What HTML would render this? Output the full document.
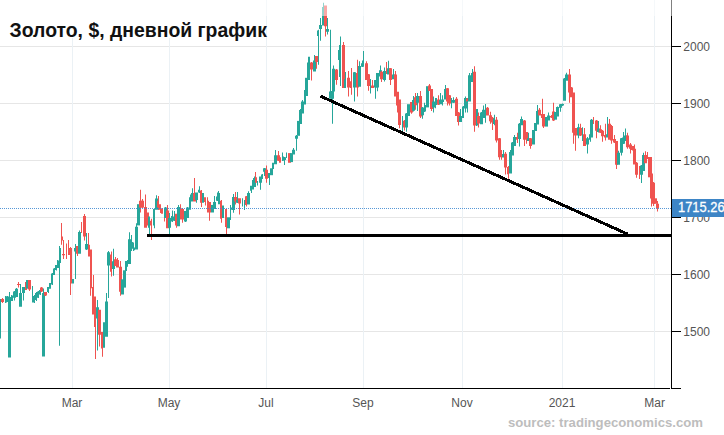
<!DOCTYPE html>
<html><head><meta charset="utf-8"><title>Gold chart</title>
<style>
html,body{margin:0;padding:0;background:#fff;}html{overflow:hidden;}
body{width:724px;height:435px;overflow:hidden;position:relative;font-family:"Liberation Sans",sans-serif;}
svg{position:absolute;left:0;top:0;}
.t{position:absolute;white-space:nowrap;font-family:"Liberation Sans",sans-serif;}
.yl{color:#555;font-size:12px;left:683.3px;line-height:14px;}
.xl{color:#555;font-size:12px;top:395.7px;line-height:14px;width:60px;text-align:center;}
</style></head><body>
<svg width="724" height="435" viewBox="0 0 724 435">
<g stroke="#e6e6e6" stroke-width="1" shape-rendering="crispEdges">
<path d="M0 46.5H671M0 103.5H671M0 160.5H671M0 217.5H671M0 274.5H671M0 331.5H671"/>
</g>
<g stroke="#ebf1f5" stroke-width="1" shape-rendering="crispEdges">
<path d="M72.5 0V388M169.5 0V388M266.5 0V388M363.5 0V388M462.5 0V388M562.5 0V388M654.5 0V388"/>
</g>
<rect x="0" y="0" width="266" height="38" fill="#fff"/>
<path fill="#26a69a" d="M0 299.0h1V338.6h-1z"/>
<path fill="#ef5350" d="M1 299.0h3V302.0h-3zM2 298.0h1V303.0h-1z"/>
<path fill="#26a69a" d="M5 296.5h2V302.5h-2zM5 296.0h1V303.0h-1z"/>
<path fill="#26a69a" d="M6 296.5h3V302.0h-3zM7 296.0h1V302.0h-1z"/>
<path fill="#26a69a" d="M8 297.0h3V357.6h-3zM9 292.0h1V357.6h-1z"/>
<path fill="#26a69a" d="M11 295.6h2V301.0h-2zM11 295.0h1V301.0h-1z"/>
<path fill="#26a69a" d="M13 291.5h3V297.7h-3zM14 291.0h1V300.5h-1z"/>
<path fill="#26a69a" d="M15 288.7h3V297.0h-3zM16 288.0h1V297.0h-1z"/>
<path fill="#ef5350" d="M17 284.0h3V285.0h-3zM18 282.0h1V287.5h-1z"/>
<path fill="#26a69a" d="M19 293.0h3V306.7h-3zM20 284.0h1V306.7h-1z"/>
<path fill="#26a69a" d="M22 287.0h3V293.0h-3zM23 287.0h1V300.5h-1z"/>
<path fill="#ef5350" d="M25 282.0h2V290.0h-2z"/>
<path fill="#26a69a" d="M26 280.0h3V288.7h-3z"/>
<path fill="#ef5350" d="M28 280.0h3V289.4h-3zM29 280.0h1V291.0h-1z"/>
<path fill="#26a69a" d="M32 300.0h1V301.5h-1zM32 286.0h1V302.5h-1z"/>
<path fill="#26a69a" d="M33 296.0h2V302.5h-2zM34 295.0h1V303.0h-1z"/>
<path fill="#26a69a" d="M35 293.0h2V300.0h-2zM36 292.0h1V301.0h-1z"/>
<path fill="#26a69a" d="M37 291.5h2V297.7h-2zM38 291.0h1V298.0h-1z"/>
<path fill="#26a69a" d="M39 290.0h2V294.5h-2zM40 289.0h1V295.0h-1z"/>
<path fill="#ef5350" d="M40 287.5h3V291.5h-3zM41 287.0h1V292.0h-1z"/>
<path fill="#26a69a" d="M42 293.0h3V356.6h-3zM43 288.5h1V356.6h-1z"/>
<path fill="#ef5350" d="M44 292.0h3V295.6h-3zM45 292.0h1V296.0h-1z"/>
<path fill="#26a69a" d="M47 287.0h2V292.0h-2zM48 287.0h1V293.0h-1z"/>
<path fill="#26a69a" d="M49 283.0h2V288.7h-2z"/>
<path fill="#26a69a" d="M51 273.5h2V284.5h-2zM52 273.0h1V285.0h-1z"/>
<path fill="#26a69a" d="M53 268.5h2V275.0h-2zM54 268.0h1V275.0h-1z"/>
<path fill="#26a69a" d="M55 265.0h2V270.0h-2zM56 265.0h1V270.5h-1z"/>
<path fill="#26a69a" d="M57 260.6h2V268.0h-2zM57 260.0h1V268.0h-1z"/>
<path fill="#26a69a" d="M59 248.0h2V263.0h-2zM59 246.0h1V345.8h-1z"/>
<path fill="#ef5350" d="M61 236.4h2V240.5h-2zM61 223.0h1V244.7h-1z"/>
<path fill="#ef5350" d="M62 254.0h3V255.2h-3zM63 240.0h1V259.0h-1z"/>
<path fill="#ef5350" d="M66 250.5h1V252.0h-1zM66 243.5h1V259.0h-1z"/>
<path fill="#ef5350" d="M68 248.0h2V255.0h-2zM68 240.0h1V255.0h-1z"/>
<path fill="#ef5350" d="M70 248.0h2V283.5h-2zM70 247.0h1V295.0h-1z"/>
<path fill="#26a69a" d="M72 279.0h2V283.5h-2z"/>
<path fill="#26a69a" d="M74 248.0h2V251.6h-2zM75 244.0h1V279.0h-1z"/>
<path fill="#ef5350" d="M76 246.0h2V253.7h-2zM77 246.0h1V256.0h-1z"/>
<path fill="#26a69a" d="M78 232.0h3V253.7h-3zM79 230.5h1V253.7h-1z"/>
<path fill="#ef5350" d="M81 231.0h1V233.0h-1zM81 222.0h1V233.0h-1z"/>
<path fill="#ef5350" d="M83 216.0h3V236.4h-3zM84 214.0h1V240.5h-1z"/>
<path fill="#26a69a" d="M85 244.0h3V249.5h-3zM86 233.0h1V250.0h-1z"/>
<path fill="#ef5350" d="M88 244.7h2V256.4h-2zM88 233.0h1V256.4h-1z"/>
<path fill="#ef5350" d="M90 249.5h2V288.2h-2zM90 249.5h1V295.8h-1z"/>
<path fill="#ef5350" d="M92 286.9h2V314.6h-2zM93 275.0h1V314.6h-1z"/>
<path fill="#ef5350" d="M94 296.5h2V327.0h-2zM95 296.5h1V358.9h-1z"/>
<path fill="#26a69a" d="M96 307.3h3V318.5h-3zM97 300.0h1V350.6h-1z"/>
<path fill="#ef5350" d="M98 309.7h3V334.7h-3zM99 309.7h1V346.4h-1z"/>
<path fill="#ef5350" d="M101 332.0h2V348.5h-2zM102 332.0h1V356.8h-1z"/>
<path fill="#26a69a" d="M103 322.3h2V347.8h-2z"/>
<path fill="#26a69a" d="M105 301.4h3V336.8h-3zM106 293.0h1V336.8h-1z"/>
<path fill="#26a69a" d="M107 252.3h3V265.4h-3zM108 251.0h1V298.0h-1z"/>
<path fill="#ef5350" d="M110 254.4h2V271.7h-2zM111 251.5h1V276.5h-1z"/>
<path fill="#26a69a" d="M112 261.3h3V269.0h-3zM113 248.8h1V275.8h-1z"/>
<path fill="#ef5350" d="M114 259.2h3V266.1h-3zM115 257.0h1V266.1h-1z"/>
<path fill="#ef5350" d="M116 259.9h3V267.5h-3zM117 258.0h1V267.5h-1z"/>
<path fill="#ef5350" d="M119 266.8h3V291.7h-3zM120 261.0h1V295.8h-1z"/>
<path fill="#26a69a" d="M121 279.3h3V294.5h-3z"/>
<path fill="#26a69a" d="M123 270.3h3V287.6h-3z"/>
<path fill="#26a69a" d="M125 261.0h2V271.0h-2z"/>
<path fill="#26a69a" d="M127 260.6h1V266.8h-1zM127 260.0h1V266.8h-1z"/>
<path fill="#26a69a" d="M128 239.2h3V264.0h-3zM129 232.3h1V264.0h-1z"/>
<path fill="#26a69a" d="M131 242.0h2V248.8h-2zM131 235.0h1V251.0h-1z"/>
<path fill="#26a69a" d="M133 247.5h2V250.2h-2zM133 242.5h1V251.0h-1z"/>
<path fill="#26a69a" d="M135 226.7h3V249.5h-3zM136 223.3h1V249.5h-1z"/>
<path fill="#26a69a" d="M137 204.2h3V225.4h-3z"/>
<path fill="#ef5350" d="M139 200.7h3V207.6h-3zM140 189.7h1V212.5h-1z"/>
<path fill="#ef5350" d="M141 200.7h3V207.6h-3zM142 199.0h1V208.0h-1z"/>
<path fill="#ef5350" d="M144 207.0h3V227.7h-3zM145 194.5h1V227.7h-1z"/>
<path fill="#ef5350" d="M147 212.5h2V225.6h-2z"/>
<path fill="#26a69a" d="M148 216.6h2V227.7h-2zM149 216.6h1V233.9h-1z"/>
<path fill="#ef5350" d="M150 220.7h2V225.6h-2zM151 218.7h1V240.0h-1z"/>
<path fill="#26a69a" d="M153 209.0h2V225.6h-2zM154 209.0h1V228.3h-1z"/>
<path fill="#26a69a" d="M155 198.6h3V209.7h-3zM156 195.2h1V209.7h-1z"/>
<path fill="#ef5350" d="M157 200.7h2V207.6h-2zM158 195.9h1V210.0h-1z"/>
<path fill="#ef5350" d="M159 204.2h2V209.7h-2zM160 204.2h1V213.1h-1z"/>
<path fill="#ef5350" d="M161 208.3h2V213.8h-2z"/>
<path fill="#ef5350" d="M164 209.0h1V214.0h-1zM164 209.0h1V221.4h-1z"/>
<path fill="#26a69a" d="M164 207.6h3V218.0h-3zM165 207.0h1V218.0h-1z"/>
<path fill="#ef5350" d="M166 210.4h3V228.3h-3zM167 204.9h1V228.3h-1z"/>
<path fill="#26a69a" d="M168 218.0h3V227.7h-3zM169 213.0h1V233.9h-1z"/>
<path fill="#26a69a" d="M171 215.9h2V221.4h-2zM172 210.4h1V222.0h-1z"/>
<path fill="#26a69a" d="M173 216.6h2V220.7h-2zM174 211.0h1V221.0h-1z"/>
<path fill="#ef5350" d="M175 213.8h2V225.6h-2zM176 213.8h1V227.7h-1z"/>
<path fill="#26a69a" d="M177 206.9h3V226.3h-3zM178 204.9h1V226.3h-1z"/>
<path fill="#ef5350" d="M180 208.3h2V219.4h-2zM180 204.2h1V219.4h-1z"/>
<path fill="#ef5350" d="M182 209.0h2V219.4h-2zM182 208.0h1V222.8h-1z"/>
<path fill="#26a69a" d="M184 211.0h3V221.4h-3zM185 211.0h1V222.0h-1z"/>
<path fill="#26a69a" d="M186 207.6h3V218.0h-3zM187 207.0h1V218.0h-1z"/>
<path fill="#26a69a" d="M189 197.3h2V209.7h-2zM190 194.5h1V209.7h-1z"/>
<path fill="#26a69a" d="M191 193.1h2V201.4h-2zM192 188.3h1V201.4h-1z"/>
<path fill="#ef5350" d="M193 193.1h3V201.4h-3zM194 178.0h1V201.4h-1z"/>
<path fill="#26a69a" d="M195 192.4h3V200.0h-3zM196 192.4h1V202.8h-1z"/>
<path fill="#26a69a" d="M198 189.7h2V192.4h-2zM199 186.2h1V193.0h-1z"/>
<path fill="#ef5350" d="M200 190.4h2V202.8h-2zM201 190.0h1V207.0h-1z"/>
<path fill="#26a69a" d="M202 193.1h2V202.8h-2z"/>
<path fill="#ef5350" d="M204 197.3h2V202.1h-2zM205 197.3h1V205.5h-1z"/>
<path fill="#ef5350" d="M207 200.7h2V212.5h-2zM207 197.3h1V212.5h-1z"/>
<path fill="#ef5350" d="M209 202.0h2V212.5h-2zM209 202.0h1V220.7h-1z"/>
<path fill="#26a69a" d="M211 204.9h3V212.5h-3z"/>
<path fill="#26a69a" d="M213 202.1h3V209.0h-3zM214 195.9h1V209.0h-1z"/>
<path fill="#26a69a" d="M216 196.5h2V200.7h-2zM217 192.4h1V201.0h-1z"/>
<path fill="#26a69a" d="M218 193.1h2V204.2h-2zM218 191.0h1V204.2h-1z"/>
<path fill="#ef5350" d="M220 200.7h2V218.7h-2zM221 200.0h1V222.8h-1z"/>
<path fill="#26a69a" d="M222 205.5h2V218.0h-2z"/>
<path fill="#ef5350" d="M225 209.0h2V227.0h-2zM226 209.0h1V233.9h-1z"/>
<path fill="#26a69a" d="M227 217.3h3V228.3h-3z"/>
<path fill="#26a69a" d="M230 207.6h2V209.7h-2zM230 204.9h1V220.0h-1z"/>
<path fill="#26a69a" d="M232 197.0h3V209.9h-3zM233 194.1h1V212.8h-1z"/>
<path fill="#ef5350" d="M234 197.0h3V201.6h-3zM235 192.0h1V204.5h-1z"/>
<path fill="#26a69a" d="M236 200.0h2V202.8h-2zM237 192.0h1V203.0h-1z"/>
<path fill="#ef5350" d="M238 198.3h3V203.6h-3zM239 198.3h1V214.4h-1z"/>
<path fill="#26a69a" d="M242 201.2h1V202.8h-1zM242 198.3h1V206.5h-1z"/>
<path fill="#26a69a" d="M244 201.2h1V202.8h-1zM244 200.0h1V209.9h-1z"/>
<path fill="#ef5350" d="M245 196.2h2V204.9h-2zM246 196.0h1V206.5h-1z"/>
<path fill="#26a69a" d="M247 192.9h3V204.5h-3zM248 191.2h1V204.5h-1z"/>
<path fill="#26a69a" d="M250 185.8h2V190.8h-2zM251 185.8h1V192.9h-1z"/>
<path fill="#26a69a" d="M252 181.0h2V189.5h-2zM252 180.0h1V189.5h-1z"/>
<path fill="#26a69a" d="M253 178.0h3V187.0h-3zM254 176.6h1V187.0h-1z"/>
<path fill="#ef5350" d="M255 177.3h2V182.8h-2zM255 172.0h1V182.8h-1z"/>
<path fill="#26a69a" d="M257 181.4h1V184.2h-1zM257 181.0h1V185.6h-1z"/>
<path fill="#26a69a" d="M259 176.6h3V182.8h-3zM260 176.6h1V189.7h-1z"/>
<path fill="#26a69a" d="M261 174.5h2V178.7h-2zM262 174.0h1V179.0h-1z"/>
<path fill="#26a69a" d="M263 168.3h3V171.8h-3zM264 168.0h1V176.0h-1z"/>
<path fill="#ef5350" d="M265 169.7h3V178.7h-3zM266 165.5h1V182.8h-1z"/>
<path fill="#26a69a" d="M268 173.1h2V178.0h-2zM269 173.0h1V185.0h-1z"/>
<path fill="#26a69a" d="M270 168.3h3V175.2h-3z"/>
<path fill="#26a69a" d="M272 162.8h2V169.0h-2z"/>
<path fill="#26a69a" d="M274 155.2h3V164.2h-3zM275 150.0h1V164.2h-1z"/>
<path fill="#ef5350" d="M277 155.2h3V160.7h-3zM278 151.0h1V161.0h-1z"/>
<path fill="#ef5350" d="M279 157.3h2V162.8h-2z"/>
<path fill="#26a69a" d="M282 156.6h2V160.7h-2zM282 152.4h1V161.0h-1z"/>
<path fill="#26a69a" d="M283 157.3h3V160.0h-3zM284 157.0h1V164.9h-1z"/>
<path fill="#26a69a" d="M286 155.0h1V158.0h-1zM286 152.4h1V158.0h-1z"/>
<path fill="#ef5350" d="M288 153.1h3V162.8h-3z"/>
<path fill="#26a69a" d="M290 153.1h3V162.1h-3z"/>
<path fill="#26a69a" d="M292 149.7h3V154.5h-3zM293 148.0h1V154.5h-1z"/>
<path fill="#26a69a" d="M295 135.8h3V138.7h-3zM296 135.0h1V150.7h-1z"/>
<path fill="#26a69a" d="M297 120.9h3V135.8h-3z"/>
<path fill="#26a69a" d="M299 109.9h3V124.0h-3zM300 109.0h1V124.0h-1z"/>
<path fill="#26a69a" d="M301 101.6h3V113.6h-3zM302 100.0h1V113.6h-1z"/>
<path fill="#26a69a" d="M304 90.0h2V104.5h-2z"/>
<path fill="#26a69a" d="M305 77.8h3V96.0h-3z"/>
<path fill="#26a69a" d="M307 62.6h3V79.9h-3zM308 56.8h1V79.9h-1z"/>
<path fill="#26a69a" d="M309 62.0h1V66.0h-1zM309 56.8h1V66.0h-1z"/>
<path fill="#ef5350" d="M310 62.6h3V69.5h-3zM311 62.0h1V80.6h-1z"/>
<path fill="#26a69a" d="M313 60.5h3V71.6h-3zM314 55.0h1V71.6h-1z"/>
<path fill="#ef5350" d="M315 56.0h3V62.0h-3zM316 56.0h1V68.8h-1z"/>
<path fill="#26a69a" d="M317 30.4h2V35.9h-2zM318 29.7h1V64.7h-1z"/>
<path fill="#26a69a" d="M319 24.9h3V29.0h-3zM320 18.0h1V40.7h-1z"/>
<path fill="#26a69a" d="M322 7.0h2V25.5h-2zM323 2.8h1V25.5h-1z"/>
<path fill="#ef5350" d="M324 5.5h3V26.2h-3zM325 5.5h1V36.6h-1z"/>
<path fill="#26a69a" d="M326 29.0h3V31.8h-3zM327 18.0h1V34.5h-1z"/>
<path fill="#26a69a" d="M329 91.6h3V98.8h-3zM330 29.7h1V98.8h-1z"/>
<path fill="#26a69a" d="M331 91.0h3V98.8h-3zM332 91.0h1V123.7h-1z"/>
<path fill="#26a69a" d="M332 68.8h3V91.6h-3zM333 65.4h1V91.6h-1z"/>
<path fill="#ef5350" d="M335 69.5h3V79.9h-3zM336 69.0h1V84.7h-1z"/>
<path fill="#26a69a" d="M338 53.0h1V60.0h-1zM338 50.0h1V60.0h-1z"/>
<path fill="#26a69a" d="M339 44.9h2V77.0h-2zM340 36.6h1V86.0h-1z"/>
<path fill="#ef5350" d="M342 44.9h3V88.1h-3zM343 42.0h1V88.1h-1z"/>
<path fill="#26a69a" d="M344 79.2h2V88.1h-2zM345 72.0h1V88.1h-1z"/>
<path fill="#ef5350" d="M347 77.8h3V87.5h-3zM348 70.9h1V96.6h-1z"/>
<path fill="#ef5350" d="M350 81.2h2V88.1h-2zM351 68.1h1V94.8h-1z"/>
<path fill="#26a69a" d="M353 72.3h3V87.5h-3zM354 72.0h1V101.5h-1z"/>
<path fill="#ef5350" d="M356 73.0h3V87.5h-3zM357 59.8h1V96.6h-1z"/>
<path fill="#26a69a" d="M358 66.0h3V86.8h-3zM359 61.2h1V86.8h-1z"/>
<path fill="#26a69a" d="M361 63.3h3V66.7h-3zM362 60.5h1V67.0h-1z"/>
<path fill="#26a69a" d="M363 62.0h1V64.0h-1zM363 51.0h1V64.0h-1z"/>
<path fill="#ef5350" d="M365 63.3h3V79.9h-3zM366 61.2h1V79.9h-1z"/>
<path fill="#ef5350" d="M367 74.3h3V86.1h-3zM368 74.0h1V90.7h-1z"/>
<path fill="#26a69a" d="M370 80.0h1V86.0h-1zM370 79.0h1V93.6h-1z"/>
<path fill="#ef5350" d="M371 85.4h3V88.1h-3zM372 79.9h1V88.1h-1z"/>
<path fill="#26a69a" d="M374 79.9h3V87.5h-3zM375 79.9h1V98.8h-1z"/>
<path fill="#26a69a" d="M376 73.0h3V87.5h-3zM377 73.0h1V91.2h-1z"/>
<path fill="#26a69a" d="M379 70.2h3V76.4h-3zM380 65.4h1V76.4h-1z"/>
<path fill="#ef5350" d="M380 71.7h3V79.3h-3zM381 71.0h1V82.0h-1z"/>
<path fill="#26a69a" d="M383 71.0h3V80.0h-3zM384 67.6h1V81.4h-1z"/>
<path fill="#ef5350" d="M386 68.3h1V73.8h-1zM386 62.0h1V74.0h-1z"/>
<path fill="#26a69a" d="M387 68.3h3V74.5h-3zM388 60.7h1V74.5h-1z"/>
<path fill="#ef5350" d="M389 68.3h3V80.0h-3zM390 68.0h1V84.9h-1z"/>
<path fill="#26a69a" d="M392 74.5h3V79.3h-3zM393 69.0h1V79.3h-1z"/>
<path fill="#ef5350" d="M394 74.5h3V96.6h-3zM395 71.0h1V96.6h-1z"/>
<path fill="#ef5350" d="M396 91.8h3V105.6h-3zM397 91.8h1V112.5h-1z"/>
<path fill="#ef5350" d="M398 99.4h3V124.9h-3zM399 99.4h1V128.3h-1z"/>
<path fill="#26a69a" d="M402 121.4h1V124.9h-1zM402 116.0h1V131.0h-1z"/>
<path fill="#ef5350" d="M403 120.7h2V127.6h-2zM404 120.0h1V130.4h-1z"/>
<path fill="#26a69a" d="M405 113.5h3V127.6h-3zM406 113.0h1V131.8h-1z"/>
<path fill="#26a69a" d="M407 104.2h3V116.0h-3z"/>
<path fill="#ef5350" d="M410 102.1h3V112.5h-3zM411 102.0h1V113.8h-1z"/>
<path fill="#26a69a" d="M412 100.0h3V110.8h-3zM413 95.9h1V111.5h-1z"/>
<path fill="#ef5350" d="M414 97.3h3V105.2h-3zM415 93.1h1V109.7h-1z"/>
<path fill="#26a69a" d="M416 95.9h3V102.8h-3zM417 93.1h1V111.0h-1z"/>
<path fill="#ef5350" d="M419 95.9h3V116.6h-3zM420 91.0h1V118.0h-1z"/>
<path fill="#26a69a" d="M421 107.6h3V115.2h-3zM422 107.0h1V118.7h-1z"/>
<path fill="#26a69a" d="M424 105.0h2V111.5h-2zM424 102.8h1V112.0h-1z"/>
<path fill="#26a69a" d="M426 86.2h3V107.4h-3z"/>
<path fill="#ef5350" d="M428 85.5h3V91.0h-3zM429 84.0h1V91.0h-1z"/>
<path fill="#ef5350" d="M430 89.0h3V109.0h-3zM431 89.0h1V111.0h-1z"/>
<path fill="#26a69a" d="M432 101.4h3V107.4h-3zM433 96.6h1V112.4h-1z"/>
<path fill="#26a69a" d="M435 100.0h1V104.0h-1zM435 98.0h1V108.3h-1z"/>
<path fill="#26a69a" d="M436 99.4h1V104.2h-1zM436 98.0h1V105.0h-1z"/>
<path fill="#ef5350" d="M437 99.4h3V104.7h-3zM438 95.2h1V105.0h-1z"/>
<path fill="#26a69a" d="M439 100.0h3V104.2h-3zM440 93.1h1V104.2h-1z"/>
<path fill="#26a69a" d="M441 99.4h3V102.1h-3zM442 95.2h1V105.5h-1z"/>
<path fill="#26a69a" d="M444 89.0h3V99.4h-3zM445 84.9h1V99.4h-1z"/>
<path fill="#ef5350" d="M446 88.3h3V101.4h-3zM447 88.0h1V105.6h-1z"/>
<path fill="#ef5350" d="M448 95.2h3V103.5h-3zM449 95.0h1V105.6h-1z"/>
<path fill="#26a69a" d="M451 100.0h1V104.0h-1zM451 98.0h1V108.3h-1z"/>
<path fill="#26a69a" d="M452 100.0h3V102.8h-3zM453 97.3h1V103.0h-1z"/>
<path fill="#ef5350" d="M455 98.7h3V116.0h-3zM456 97.0h1V116.0h-1z"/>
<path fill="#ef5350" d="M457 112.4h3V122.0h-3zM458 112.0h1V125.5h-1z"/>
<path fill="#26a69a" d="M459 116.0h3V122.0h-3zM460 109.0h1V122.0h-1z"/>
<path fill="#26a69a" d="M462 106.5h2V118.0h-2zM463 106.0h1V118.0h-1z"/>
<path fill="#26a69a" d="M464 98.0h3V108.5h-3zM465 96.6h1V112.4h-1z"/>
<path fill="#ef5350" d="M466 98.7h2V101.4h-2zM467 98.0h1V102.0h-1z"/>
<path fill="#26a69a" d="M467 101.4h1V103.0h-1zM467 101.0h1V112.4h-1z"/>
<path fill="#26a69a" d="M468 75.2h3V101.4h-3zM469 73.1h1V101.4h-1z"/>
<path fill="#26a69a" d="M471 73.1h2V82.1h-2zM472 69.0h1V82.1h-1z"/>
<path fill="#ef5350" d="M473 71.7h3V125.5h-3zM474 66.2h1V131.8h-1z"/>
<path fill="#26a69a" d="M476 109.0h2V125.5h-2zM476 109.0h1V126.0h-1z"/>
<path fill="#ef5350" d="M477 116.0h3V123.5h-3zM478 112.4h1V127.6h-1z"/>
<path fill="#26a69a" d="M480 112.4h3V124.2h-3zM481 112.0h1V124.2h-1z"/>
<path fill="#26a69a" d="M482 109.7h3V118.0h-3zM483 105.5h1V118.0h-1z"/>
<path fill="#26a69a" d="M485 104.2h1V121.5h-1zM485 104.0h1V122.8h-1z"/>
<path fill="#ef5350" d="M486 107.7h3V115.4h-3zM487 107.0h1V115.4h-1z"/>
<path fill="#ef5350" d="M489 115.3h3V121.3h-3zM490 111.8h1V123.7h-1z"/>
<path fill="#ef5350" d="M491 117.8h3V122.6h-3zM492 117.0h1V129.9h-1z"/>
<path fill="#26a69a" d="M493 118.5h2V124.0h-2zM494 114.7h1V125.2h-1z"/>
<path fill="#ef5350" d="M495 119.7h3V140.4h-3zM496 117.0h1V142.5h-1z"/>
<path fill="#ef5350" d="M498 138.3h3V157.3h-3zM499 138.0h1V159.7h-1z"/>
<path fill="#ef5350" d="M501 150.0h1V157.0h-1zM501 150.0h1V159.7h-1z"/>
<path fill="#26a69a" d="M502 154.0h2V157.4h-2zM503 150.0h1V157.4h-1z"/>
<path fill="#ef5350" d="M504 153.8h3V167.6h-3zM505 152.0h1V174.5h-1z"/>
<path fill="#ef5350" d="M507 167.0h2V174.2h-2zM508 166.0h1V178.7h-1z"/>
<path fill="#26a69a" d="M509 152.0h3V173.5h-3zM510 150.0h1V173.5h-1z"/>
<path fill="#26a69a" d="M511 142.5h3V155.6h-3zM512 142.0h1V155.6h-1z"/>
<path fill="#26a69a" d="M513 137.0h3V146.0h-3zM514 134.9h1V146.0h-1z"/>
<path fill="#ef5350" d="M516 137.0h2V139.7h-2zM517 132.8h1V143.0h-1z"/>
<path fill="#26a69a" d="M518 123.8h3V139.0h-3zM519 123.0h1V146.6h-1z"/>
<path fill="#26a69a" d="M520 119.0h3V125.2h-3zM521 116.6h1V125.2h-1z"/>
<path fill="#ef5350" d="M523 120.4h3V139.7h-3zM524 120.0h1V146.0h-1z"/>
<path fill="#ef5350" d="M526 132.0h2V140.4h-2zM526 132.0h1V143.8h-1z"/>
<path fill="#26a69a" d="M527 138.3h3V141.0h-3zM528 132.8h1V141.0h-1z"/>
<path fill="#ef5350" d="M529 138.3h3V146.0h-3zM530 138.0h1V148.7h-1z"/>
<path fill="#26a69a" d="M532 130.0h3V144.5h-3z"/>
<path fill="#26a69a" d="M534 123.0h3V131.0h-3z"/>
<path fill="#26a69a" d="M536 111.0h3V124.5h-3zM537 104.9h1V124.5h-1z"/>
<path fill="#ef5350" d="M538 109.7h3V115.4h-3zM539 108.0h1V115.4h-1z"/>
<path fill="#ef5350" d="M541 113.9h2V118.0h-2zM542 98.7h1V118.0h-1z"/>
<path fill="#ef5350" d="M542 114.0h3V126.6h-3zM543 114.0h1V128.0h-1z"/>
<path fill="#26a69a" d="M545 117.0h3V126.6h-3z"/>
<path fill="#26a69a" d="M547 115.5h3V120.4h-3zM548 112.5h1V120.4h-1z"/>
<path fill="#ef5350" d="M550 116.0h2V117.6h-2zM551 115.0h1V118.0h-1z"/>
<path fill="#ef5350" d="M552 111.6h3V120.4h-3zM553 102.8h1V121.0h-1z"/>
<path fill="#26a69a" d="M554 112.0h3V119.7h-3z"/>
<path fill="#26a69a" d="M556 107.0h3V116.6h-3zM557 106.5h1V116.6h-1z"/>
<path fill="#26a69a" d="M559 104.2h3V107.7h-3zM560 104.0h1V111.8h-1z"/>
<path fill="#26a69a" d="M561 104.0h3V105.6h-3zM562 103.5h1V106.0h-1z"/>
<path fill="#26a69a" d="M563 78.6h3V100.7h-3zM564 78.0h1V100.7h-1z"/>
<path fill="#26a69a" d="M565 74.5h3V80.7h-3zM566 72.7h1V80.7h-1z"/>
<path fill="#ef5350" d="M568 74.5h3V92.5h-3zM569 69.0h1V102.8h-1z"/>
<path fill="#ef5350" d="M570 87.6h3V97.3h-3zM571 87.0h1V97.3h-1z"/>
<path fill="#ef5350" d="M572 92.5h3V132.8h-3zM573 92.5h1V143.8h-1z"/>
<path fill="#ef5350" d="M574 128.0h3V135.6h-3zM575 128.0h1V150.7h-1z"/>
<path fill="#26a69a" d="M577 127.3h3V135.6h-3zM578 123.8h1V138.3h-1z"/>
<path fill="#ef5350" d="M579 128.0h3V135.6h-3zM580 123.8h1V136.0h-1z"/>
<path fill="#26a69a" d="M582 128.0h1V135.0h-1zM582 127.3h1V141.0h-1z"/>
<path fill="#ef5350" d="M583 134.2h3V146.0h-3zM584 128.0h1V146.0h-1z"/>
<path fill="#26a69a" d="M586 138.3h3V144.5h-3zM587 137.0h1V153.5h-1z"/>
<path fill="#26a69a" d="M589 134.2h2V139.7h-2zM590 134.0h1V141.8h-1z"/>
<path fill="#26a69a" d="M590 119.7h3V137.6h-3zM591 119.0h1V137.6h-1z"/>
<path fill="#ef5350" d="M593 119.7h1V123.8h-1zM593 117.0h1V124.0h-1z"/>
<path fill="#ef5350" d="M595 120.4h3V130.7h-3zM596 120.0h1V138.3h-1z"/>
<path fill="#26a69a" d="M597 128.6h3V132.0h-3zM598 121.0h1V132.5h-1z"/>
<path fill="#ef5350" d="M599 129.3h3V132.8h-3zM600 125.2h1V133.0h-1z"/>
<path fill="#ef5350" d="M601 130.7h3V136.2h-3zM602 130.0h1V141.8h-1z"/>
<path fill="#ef5350" d="M604 134.9h2V137.6h-2zM605 123.8h1V140.4h-1z"/>
<path fill="#26a69a" d="M606 134.2h3V137.6h-3zM607 117.0h1V137.6h-1z"/>
<path fill="#ef5350" d="M608 123.8h3V139.7h-3zM609 119.0h1V139.7h-1z"/>
<path fill="#ef5350" d="M610 125.9h3V140.4h-3zM611 125.0h1V143.8h-1z"/>
<path fill="#ef5350" d="M613 139.0h3V142.5h-3zM614 134.9h1V143.0h-1z"/>
<path fill="#ef5350" d="M615 141.0h3V164.7h-3zM616 141.0h1V169.0h-1z"/>
<path fill="#26a69a" d="M617 152.8h3V164.7h-3zM618 150.7h1V164.7h-1z"/>
<path fill="#26a69a" d="M620 138.3h3V152.8h-3zM621 138.0h1V155.6h-1z"/>
<path fill="#26a69a" d="M622 137.6h3V143.8h-3zM623 132.0h1V144.0h-1z"/>
<path fill="#26a69a" d="M624 135.6h3V141.0h-3zM625 128.6h1V141.0h-1z"/>
<path fill="#ef5350" d="M626 135.6h3V147.3h-3zM627 132.8h1V148.7h-1z"/>
<path fill="#ef5350" d="M629 144.5h3V148.7h-3zM630 143.0h1V153.5h-1z"/>
<path fill="#ef5350" d="M631 146.0h3V150.0h-3zM632 146.0h1V150.5h-1z"/>
<path fill="#ef5350" d="M633 148.7h3V164.5h-3zM634 144.5h1V164.5h-1z"/>
<path fill="#ef5350" d="M635 162.8h3V174.7h-3zM636 162.0h1V177.8h-1z"/>
<path fill="#ef5350" d="M639 166.0h1V168.0h-1zM639 166.0h1V179.0h-1z"/>
<path fill="#26a69a" d="M640 165.4h3V174.7h-3zM641 165.0h1V183.0h-1z"/>
<path fill="#26a69a" d="M642 155.0h3V171.0h-3zM643 152.8h1V171.0h-1z"/>
<path fill="#ef5350" d="M644 155.0h3V163.2h-3zM645 151.2h1V163.2h-1z"/>
<path fill="#ef5350" d="M647 157.0h2V158.5h-2zM647 152.1h1V159.0h-1z"/>
<path fill="#ef5350" d="M648 157.0h4V177.3h-4z"/>
<path fill="#ef5350" d="M650 173.6h3V198.6h-3zM651 173.6h1V206.6h-1z"/>
<path fill="#ef5350" d="M652 182.8h3V203.8h-3zM653 182.0h1V205.9h-1z"/>
<path fill="#ef5350" d="M654 198.3h3V203.8h-3z"/>
<path fill="#ef5350" d="M656 203.8h3V208.0h-3zM657 201.0h1V211.6h-1z"/>
<path d="M0 208.5H671" stroke="#3a86d0" stroke-opacity="0.85" stroke-width="1" stroke-dasharray="1 1" shape-rendering="crispEdges"/>
<g stroke="#000" fill="none" shape-rendering="crispEdges">
<path d="M147 235.5H671" stroke-width="3"/>
<path d="M320.6 96.2L628 234.3" stroke-width="3"/>
</g>
<g stroke="#000" stroke-width="1" shape-rendering="crispEdges">
<path d="M671.5 0V389M0 388.5H670M671 46.5H681M671 103.5H681M671 160.5H681M671 217.5H681M671 274.5H681M671 331.5H681M671 388.5H681"/>
</g>
<rect x="0" y="0" width="673" height="16" fill="#fff" fill-opacity="0.5"/>

</svg>
<div class="t" style="left:9.6px;top:17.6px;font-size:19.4px;font-weight:bold;color:#111;line-height:24px;">Золото, $, дневной график</div>
<div class="t yl" style="top:39.8px;">2000</div>
<div class="t yl" style="top:96.8px;">1900</div>
<div class="t yl" style="top:153.8px;">1800</div>
<div class="t yl" style="top:210.8px;">1700</div>
<div class="t yl" style="top:267.8px;">1600</div>
<div class="t yl" style="top:324.8px;">1500</div>
<div style="position:absolute;left:672px;top:199px;width:52px;height:18px;background:#3d85c6;z-index:2;"></div>
<div class="t" style="left:678.2px;top:198.4px;font-size:15px;color:#fff;line-height:18px;z-index:3;transform-origin:0 0;transform:scaleX(0.86);-webkit-text-stroke:0.3px #fff;">1715.26</div>
<div class="t xl" style="left:42px;">Mar</div>
<div class="t xl" style="left:139px;">May</div>
<div class="t xl" style="left:236px;">Jul</div>
<div class="t xl" style="left:333px;">Sep</div>
<div class="t xl" style="left:432px;">Nov</div>
<div class="t xl" style="left:532px;">2021</div>
<div class="t xl" style="left:624.6px;">Mar</div>
<div class="t" style="left:508px;top:413.6px;font-size:13.15px;font-weight:bold;color:#bdbdbd;line-height:18px;">source: tradingeconomics.com</div>
</body></html>
